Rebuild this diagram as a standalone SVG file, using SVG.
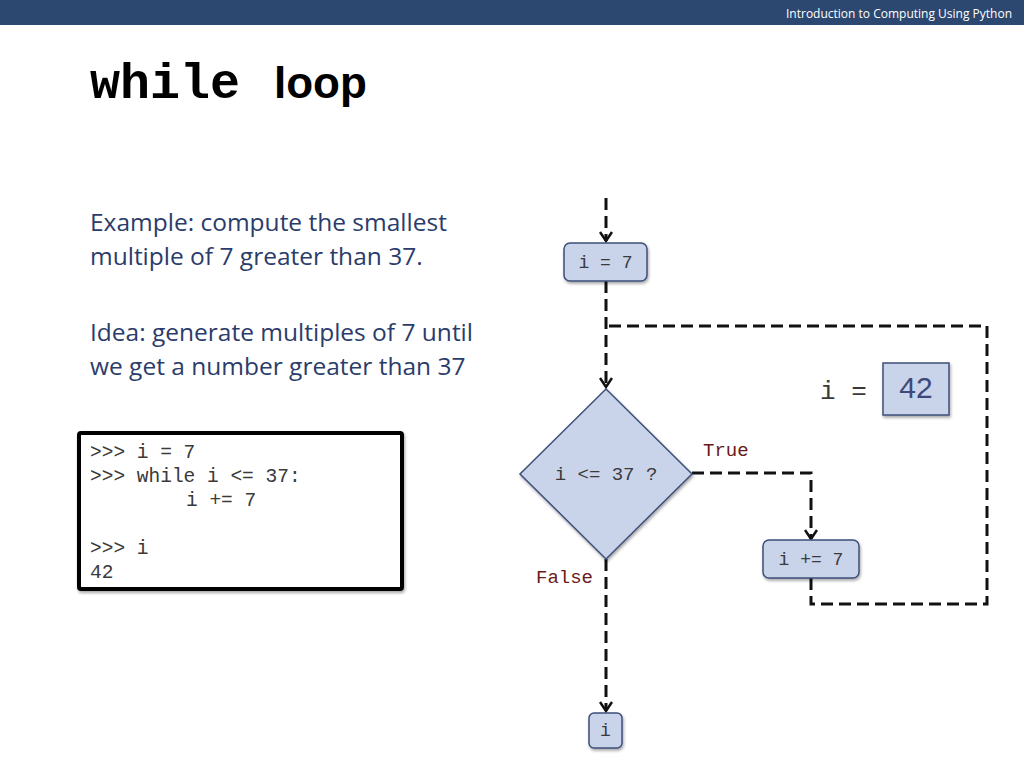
<svg xmlns="http://www.w3.org/2000/svg" width="1024" height="768" viewBox="0 0 1024 768">
<style>
.node{fill:#c9d3ea;stroke:#3e4f7a;stroke-width:1.5}
.mono{font-family:"Liberation Mono","Courier New",monospace;fill:#3a3a3a}
.lbl{font-family:"Liberation Mono",monospace;fill:#6b1a1a;font-size:19px}
.body{font-family:"Open Sans","Liberation Sans",sans-serif;font-size:24.5px;fill:#2b3c6b}
.conn{fill:none;stroke:#111;stroke-width:3;stroke-dasharray:12 6}
</style>
<defs>
<marker id="ah" markerWidth="12" markerHeight="14" refX="10" refY="7" orient="auto" markerUnits="userSpaceOnUse" viewBox="0 0 12 14">
<path d="M1,1 L10,7 L1,13" fill="none" stroke="#111" stroke-width="2.5"/>
</marker>
<filter id="sh" x="-20%" y="-20%" width="140%" height="140%"><feDropShadow dx="1" dy="2" stdDeviation="1.5" flood-opacity="0.35"/></filter>
</defs>
<rect x="0" y="0" width="1024" height="25" fill="#2c4770"/>
<text x="1012" y="18" text-anchor="end" font-family="'Open Sans','Liberation Sans',sans-serif" font-size="12" fill="#fff">Introduction to Computing Using Python</text>
<text y="98" font-weight="bold" fill="#000"><tspan x="90" font-size="50" font-family="'Liberation Mono',monospace">while</tspan><tspan x="274" font-size="44" font-family="'Liberation Sans',sans-serif">loop</tspan></text>
<text class="body" x="90" y="231">Example: compute the smallest</text>
<text class="body" x="90" y="265">multiple of 7 greater than 37.</text>
<text class="body" x="90" y="341">Idea: generate multiples of 7 until</text>
<text class="body" x="90" y="375">we get a number greater than 37</text>
<g id="code">
<rect x="79" y="433" width="323" height="156" fill="#fff" stroke="#000" stroke-width="4" rx="2" filter="url(#sh)"/>
<text class="mono" font-size="19.5"><tspan x="90" y="458">&gt;&gt;&gt; i = 7</tspan><tspan x="90" y="482">&gt;&gt;&gt; while i &lt;= 37:</tspan><tspan x="186" y="506">i += 7</tspan><tspan x="90" y="554">&gt;&gt;&gt; i</tspan><tspan x="90" y="578">42</tspan></text>
</g>
<g id="connectors">
<path class="conn" d="M606,198 V241" marker-end="url(#ah)"/>
<path class="conn" d="M606,281 V387" marker-end="url(#ah)"/>
<path class="conn" d="M692,473 H811 V539" marker-end="url(#ah)"/>
<path class="conn" d="M811,578 V604 H987 V326 H606"/>
<path class="conn" d="M606,559 V711" marker-end="url(#ah)"/>
</g>
<text class="lbl" x="703" y="456">True</text>
<text class="lbl" x="536" y="583">False</text>
<g id="init"><rect class="node" x="564" y="243" width="83" height="38" rx="6" filter="url(#sh)"/><text class="mono" font-size="18" x="605.5" y="268" text-anchor="middle">i = 7</text></g>
<g id="cond"><polygon class="node" points="606,389 692,474 606,559 520,474" filter="url(#sh)"/><text class="mono" font-size="19" x="606" y="480" text-anchor="middle">i &lt;= 37 ?</text></g>
<g id="inc"><rect class="node" x="763" y="540" width="96" height="38" rx="6" filter="url(#sh)"/><text class="mono" font-size="18" x="811" y="565" text-anchor="middle">i += 7</text></g>
<g id="out"><rect class="node" x="589" y="713" width="33" height="35" rx="5" filter="url(#sh)"/><text class="mono" font-size="18" x="605.5" y="736" text-anchor="middle">i</text></g>
<g id="val">
<text class="mono" font-size="26" x="820" y="399">i =</text>
<rect class="node" x="883" y="363" width="66" height="52" filter="url(#sh)"/>
<text font-family="'Liberation Sans',sans-serif" font-size="30" fill="#3c4a7a" x="916" y="398" text-anchor="middle">42</text>
</g>
</svg>
